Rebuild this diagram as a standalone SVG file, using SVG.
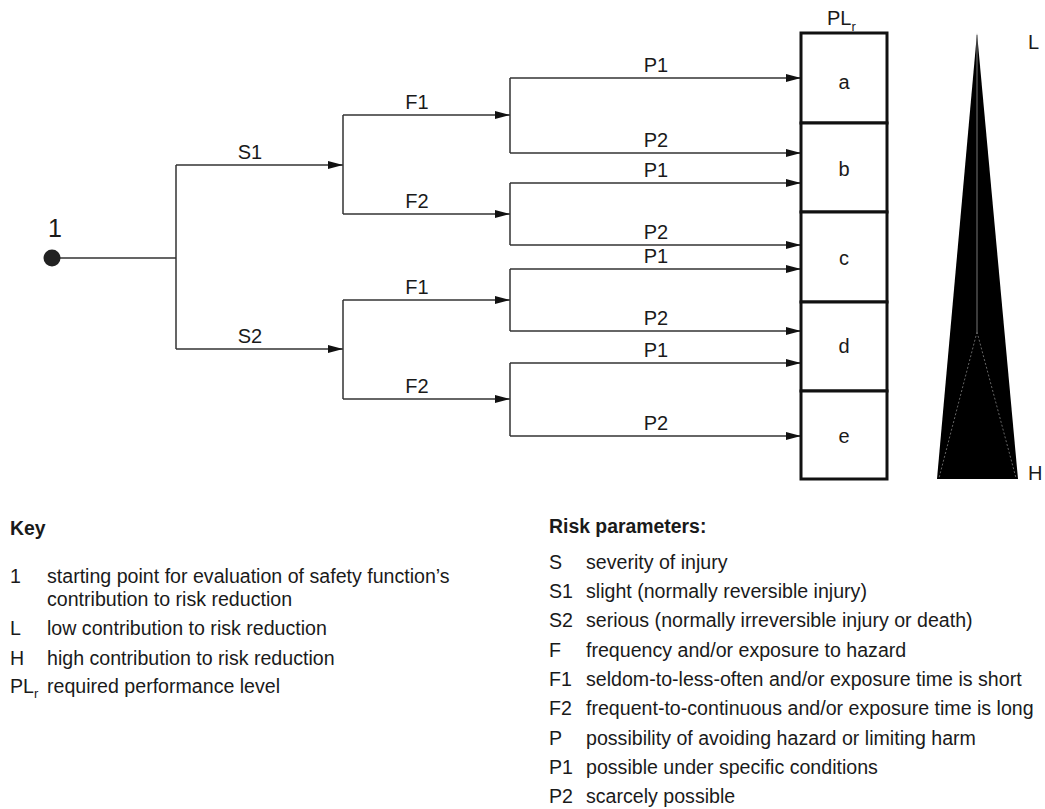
<svg xmlns="http://www.w3.org/2000/svg" width="1045" height="809" viewBox="0 0 1045 809">
<style>
text{font-family:"Liberation Sans",Arial,Helvetica,sans-serif;fill:#1a1a1a;font-size:19.6px}
.lbl{text-anchor:middle;font-size:20px}
.ln{stroke:#333;stroke-width:1.5;fill:none}
.arr{stroke:#333;stroke-width:1.5;fill:none;marker-end:url(#ah)}
.box{fill:#fff;stroke:#111;stroke-width:3}
.b{font-weight:bold;font-size:19.4px}
.sub{font-size:13px}
</style>
<defs>
<marker id="ah" markerUnits="userSpaceOnUse" markerWidth="16" markerHeight="9" refX="15" refY="4.5" orient="auto">
<path d="M0,0.5 L15,4.5 L0,8.5 z" fill="#111"/>
</marker>
</defs>
<rect width="1045" height="809" fill="#fff"/>

<g id="connectors">
<path class="ln" d="M52,258 H176 M176,165 V349"/>
<path class="arr" d="M176,165 H343"/>
<path class="arr" d="M176,349 H343"/>
<path class="ln" d="M343,115 V214 M343,300 V399"/>
<path class="arr" d="M343,115 H510"/>
<path class="arr" d="M343,214 H510"/>
<path class="arr" d="M343,300 H510"/>
<path class="arr" d="M343,399 H510"/>
<path class="ln" d="M510,78 V153 M510,183 V245 M510,269 V331 M510,363 V436"/>
<path class="arr" d="M510,78 H801"/>
<path class="arr" d="M510,153 H801"/>
<path class="arr" d="M510,183 H801"/>
<path class="arr" d="M510,245 H801"/>
<path class="arr" d="M510,269 H801"/>
<path class="arr" d="M510,331 H801"/>
<path class="arr" d="M510,363 H801"/>
<path class="arr" d="M510,436 H801"/>
</g>

<g id="edge-labels">
<text class="lbl" x="250" y="159">S1</text>
<text class="lbl" x="250" y="343">S2</text>
<text class="lbl" x="417" y="109">F1</text>
<text class="lbl" x="417" y="208">F2</text>
<text class="lbl" x="417" y="294">F1</text>
<text class="lbl" x="417" y="393">F2</text>
<text class="lbl" x="656" y="72">P1</text>
<text class="lbl" x="656" y="147">P2</text>
<text class="lbl" x="656" y="177">P1</text>
<text class="lbl" x="656" y="239">P2</text>
<text class="lbl" x="656" y="263">P1</text>
<text class="lbl" x="656" y="325">P2</text>
<text class="lbl" x="656" y="357">P1</text>
<text class="lbl" x="656" y="430">P2</text>
</g>

<g id="start">
<circle cx="52" cy="258" r="8.5" fill="#222"/>
<text class="lbl" x="55" y="237" style="font-size:25px">1</text>
</g>

<g id="plr-title">
<text x="827" y="25" style="font-size:20px">PL<tspan class="sub" dy="6">r</tspan></text>
</g>
<g id="level-a"><rect class="box" x="801" y="33" width="86" height="90"/><text class="lbl" x="844" y="89">a</text></g>
<g id="level-b"><rect class="box" x="801" y="123" width="86" height="89"/><text class="lbl" x="844" y="176">b</text></g>
<g id="level-c"><rect class="box" x="801" y="212" width="86" height="90"/><text class="lbl" x="844" y="265">c</text></g>
<g id="level-d"><rect class="box" x="801" y="302" width="86" height="89"/><text class="lbl" x="844" y="353">d</text></g>
<g id="level-e"><rect class="box" x="801" y="391" width="86" height="88"/><text class="lbl" x="844" y="443">e</text></g>

<g id="scale">
<polygon points="977,33 1018,479 937,479" fill="#000"/>
<path d="M977,35 V332" stroke="#777" stroke-width="1" fill="none"/>
<path d="M977,332 L939,478 M977,332 L1016,478" stroke="#666" stroke-width="1" stroke-dasharray="2,2" fill="none"/>
<text x="1028" y="49" style="font-size:20px">L</text>
<text x="1028" y="480" style="font-size:20px">H</text>
</g>

<g id="key">
<text class="b" x="10" y="535">Key</text>
<text x="10" y="583">1</text><text x="47" y="583">starting point for evaluation of safety function’s</text>
<text x="47" y="606">contribution to risk reduction</text>
<text x="10" y="635">L</text><text x="47" y="635">low contribution to risk reduction</text>
<text x="10" y="665">H</text><text x="47" y="665">high contribution to risk reduction</text>
<text x="10" y="693">PL<tspan class="sub" dy="5">r</tspan></text><text x="47" y="693">required performance level</text>
</g>

<g id="risk-parameters">
<text class="b" x="549" y="533">Risk parameters:</text>
<text x="549" y="569">S</text><text x="586" y="569">severity of injury</text>
<text x="549" y="598">S1</text><text x="586" y="598">slight (normally reversible injury)</text>
<text x="549" y="627">S2</text><text x="586" y="627">serious (normally irreversible injury or death)</text>
<text x="549" y="657">F</text><text x="586" y="657">frequency and/or exposure to hazard</text>
<text x="549" y="686">F1</text><text x="586" y="686">seldom-to-less-often and/or exposure time is short</text>
<text x="549" y="715">F2</text><text x="586" y="715">frequent-to-continuous and/or exposure time is long</text>
<text x="549" y="745">P</text><text x="586" y="745">possibility of avoiding hazard or limiting harm</text>
<text x="549" y="774">P1</text><text x="586" y="774">possible under specific conditions</text>
<text x="549" y="803">P2</text><text x="586" y="803">scarcely possible</text>
</g>
</svg>
